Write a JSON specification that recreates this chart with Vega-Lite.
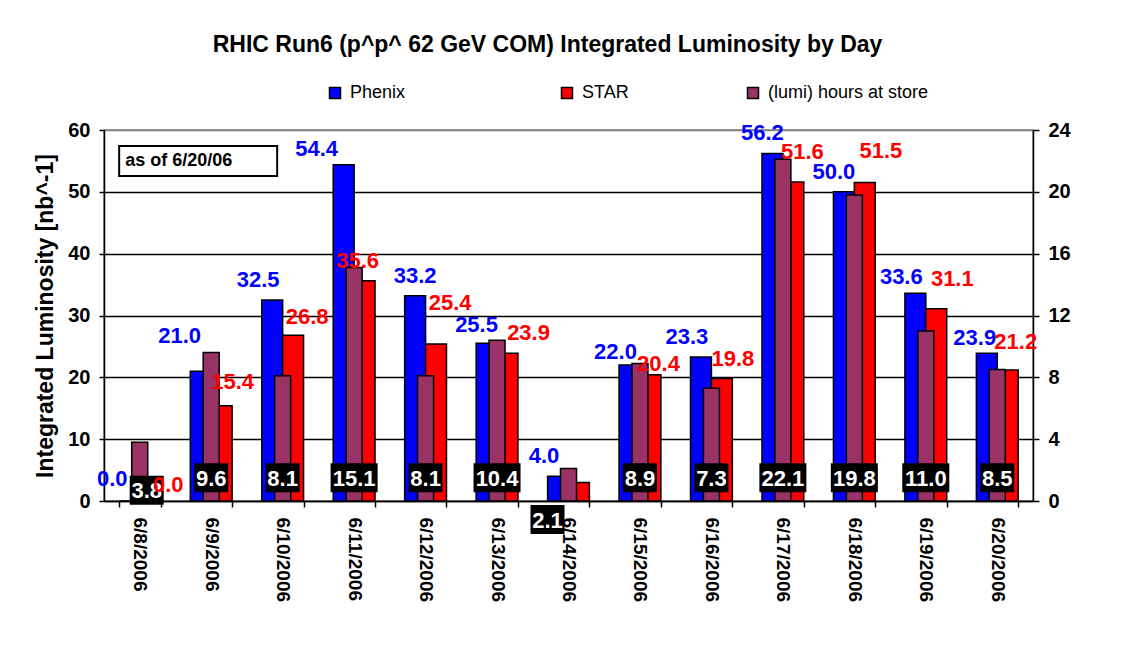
{
  "$schema": "https://vega.github.io/schema/vega-lite/v6.json",
  "width": 929,
  "height": 371,
  "autosize": {"type": "none"},
  "padding": {"left": 104, "top": 130, "right": 92, "bottom": 159},
  "background": "white",
  "title": {
    "text": "RHIC Run6 (p^p^ 62 GeV COM) Integrated Luminosity by Day",
    "font": "Liberation Sans",
    "fontSize": 23,
    "fontWeight": "bold",
    "color": "black",
    "anchor": "middle",
    "dx": -21,
    "offset": 27
  },
  "data": {
    "values": [
      {"date": "6/8/2006", "Phenix": 0.0, "STAR": 0.0, "hours": 3.8},
      {"date": "6/9/2006", "Phenix": 21.0, "STAR": 15.4, "hours": 9.6},
      {"date": "6/10/2006", "Phenix": 32.5, "STAR": 26.8, "hours": 8.1},
      {"date": "6/11/2006", "Phenix": 54.4, "STAR": 35.6, "hours": 15.1},
      {"date": "6/12/2006", "Phenix": 33.2, "STAR": 25.4, "hours": 8.1},
      {"date": "6/13/2006", "Phenix": 25.5, "STAR": 23.9, "hours": 10.4},
      {"date": "6/14/2006", "Phenix": 4.0, "STAR": 3.0, "hours": 2.1},
      {"date": "6/15/2006", "Phenix": 22.0, "STAR": 20.4, "hours": 8.9},
      {"date": "6/16/2006", "Phenix": 23.3, "STAR": 19.8, "hours": 7.3},
      {"date": "6/17/2006", "Phenix": 56.2, "STAR": 51.6, "hours": 22.1},
      {"date": "6/18/2006", "Phenix": 50.0, "STAR": 51.5, "hours": 19.8},
      {"date": "6/19/2006", "Phenix": 33.6, "STAR": 31.1, "hours": 11.0},
      {"date": "6/20/2006", "Phenix": 23.9, "STAR": 21.2, "hours": 8.5}
    ]
  },
  "config": {
    "font": "Liberation Sans",
    "view": {"stroke": "#808080", "strokeWidth": 1.5},
    "axis": {
      "labelFont": "Liberation Sans",
      "labelFontWeight": "bold",
      "labelFontSize": 20,
      "labelColor": "black",
      "domainColor": "black",
      "domainWidth": 1.5,
      "tickColor": "black",
      "tickWidth": 1.5,
      "titleColor": "black"
    },
    "legend": {
      "orient": "none",
      "direction": "horizontal",
      "title": null,
      "symbolType": "square",
      "symbolSize": 121,
      "symbolStrokeColor": "black",
      "symbolStrokeWidth": 1.5,
      "labelFont": "Liberation Sans",
      "labelFontSize": 18,
      "labelColor": "black",
      "labelOffset": 6,
      "labelLimit": 400
    }
  },
  "encoding": {
    "x": {
      "field": "date",
      "type": "nominal",
      "sort": null,
      "scale": {"paddingInner": 0.415, "paddingOuter": 0.2075},
      "axis": {
        "title": null,
        "labelAngle": 90,
        "labelAlign": "left",
        "labelBaseline": "middle",
        "labelFontSize": 19,
        "tickBand": "extent",
        "tickSize": 6,
        "labelPadding": 10
      }
    }
  },
  "layer": [
    {
      "layer": [
        {
          "transform": [{"fold": ["Phenix", "STAR"], "as": ["series", "lum"]}],
          "mark": {"type": "bar", "stroke": "black", "strokeWidth": 1.5},
          "encoding": {
            "y": {
              "field": "lum",
              "type": "quantitative",
              "scale": {"domain": [0, 60], "nice": false},
              "axis": {
                "title": "Integrated Luminosity [nb^-1]",
                "titleFont": "Liberation Sans",
                "titleFontSize": 23,
                "titleFontWeight": "bold",
                "titlePadding": 10,
                "values": [0, 10, 20, 30, 40, 50, 60],
                "grid": true,
                "gridColor": {"condition": {"test": "datum.value === 60", "value": "#808080"}, "value": "black"},
                "gridWidth": 1.3,
                "tickSize": 5,
                "labelPadding": 9
              }
            },
            "xOffset": {"field": "series", "sort": ["Phenix", "STAR"]},
            "color": {
              "field": "series",
              "type": "nominal",
              "scale": {"domain": ["Phenix", "STAR"], "range": ["#0000FF", "#FF0000"]},
              "legend": {"legendX": 222, "legendY": -46, "columnPadding": 152}
            }
          }
        },
        {
          "data": {"values": [{"note": "as of 6/20/06", "day": "6/9/2006", "level": 55}]},
          "mark": {"type": "point", "filled": true, "fill": "white", "stroke": "black", "strokeWidth": 2, "opacity": 1, "shape": "M-1.165,-0.19H0.835V0.19H-1.165Z", "size": 24964},
          "encoding": {
            "x": {"field": "day", "type": "nominal"},
            "y": {"field": "level", "type": "quantitative"}
          }
        },
        {
          "data": {"values": [{"note": "as of 6/20/06", "day": "6/9/2006", "level": 55}]},
          "mark": {"type": "text", "align": "left", "baseline": "middle", "dx": -86, "font": "Liberation Sans", "fontSize": 18, "fontWeight": "bold", "color": "black"},
          "encoding": {
            "x": {"field": "day", "type": "nominal"},
            "y": {"field": "level", "type": "quantitative"},
            "text": {"field": "note"}
          }
        }
      ]
    },
    {
      "layer": [
        {
          "mark": {"type": "bar", "width": {"band": 0.383}, "stroke": "black", "strokeWidth": 1.5},
          "encoding": {
            "y": {
              "field": "hours",
              "type": "quantitative",
              "scale": {"domain": [0, 24], "nice": false},
              "axis": {
                "orient": "right",
                "title": null,
                "values": [0, 4, 8, 12, 16, 20, 24],
                "grid": false,
                "tickSize": 6,
                "labelPadding": 9
              }
            },
            "fill": {
              "datum": "(lumi) hours at store",
              "scale": {"domain": ["(lumi) hours at store"], "range": ["#993366"]},
              "legend": {"legendX": 640, "legendY": -46}
            }
          }
        },
        {
          "transform": [{"filter": "datum.date !== '6/14/2006' && datum.date !== '6/8/2006'"}],
          "mark": {"type": "point", "filled": true, "fill": "black", "strokeWidth": 0, "opacity": 1},
          "encoding": {
            "y": {"datum": 1.5},
            "shape": {"condition": {"test": "datum.hours >= 10", "value": "M-1,-0.617H1V0.617H-1Z"}, "value": "M-1,-0.853H1V0.853H-1Z"},
            "size": {"condition": {"test": "datum.hours >= 10", "value": 2209}, "value": 1156}
          }
        },
        {
          "transform": [{"filter": "datum.date !== '6/14/2006' && datum.date !== '6/8/2006'"}],
          "mark": {"type": "text", "baseline": "middle", "align": "center", "dy": 1, "font": "Liberation Sans", "fontSize": 22, "fontWeight": "bold", "color": "white"},
          "encoding": {
            "y": {"datum": 1.5},
            "text": {"field": "hours", "type": "quantitative", "format": ".1f"}
          }
        },
        {
          "transform": [{"filter": "datum.date === '6/8/2006'"}],
          "mark": {"type": "point", "filled": true, "fill": "black", "strokeWidth": 0, "opacity": 1, "shape": "M-0.59,-0.853H1.41V0.853H-0.59Z", "size": 1156},
          "encoding": {
            "y": {"datum": 0.7}
          }
        },
        {
          "transform": [{"filter": "datum.date === '6/8/2006'"}],
          "mark": {"type": "text", "baseline": "middle", "align": "center", "dx": 7, "dy": 1, "font": "Liberation Sans", "fontSize": 22, "fontWeight": "bold", "color": "white"},
          "encoding": {
            "y": {"datum": 0.7},
            "text": {"field": "hours", "type": "quantitative", "format": ".1f"}
          }
        },
        {
          "transform": [{"filter": "datum.date === '6/14/2006'"}],
          "mark": {"type": "point", "filled": true, "fill": "black", "strokeWidth": 0, "opacity": 1, "shape": "M-2.235,-0.853H-0.235V0.853H-2.235Z", "size": 1156},
          "encoding": {
            "y": {"datum": -1.2}
          }
        },
        {
          "transform": [{"filter": "datum.date === '6/14/2006'"}],
          "mark": {"type": "text", "baseline": "middle", "align": "center", "dx": -21, "dy": 1, "font": "Liberation Sans", "fontSize": 22, "fontWeight": "bold", "color": "white"},
          "encoding": {
            "y": {"datum": -1.2},
            "text": {"field": "hours", "type": "quantitative", "format": ".1f"}
          }
        }
      ]
    },
    {
      "layer": [
        {
          "mark": {
            "type": "text",
            "baseline": "middle",
            "align": "center",
            "dx": {"expr": "{'6/8/2006': -27.5, '6/9/2006': -31.5, '6/11/2006': -37.5, '6/12/2006': -10.5, '6/13/2006': -20.5, '6/17/2006': -20.5, '6/18/2006': -20.5, '6/20/2006': -22.5}[datum.date] || -24.5"},
            "dy": {"expr": "{'6/8/2006': -22, '6/9/2006': -35, '6/11/2006': -16, '6/13/2006': -18, '6/15/2006': -13, '6/19/2006': -16, '6/20/2006': -15}[datum.date] || -20"},
            "font": "Liberation Sans",
            "fontSize": 22,
            "fontWeight": "bold",
            "color": "#0000FF"
          },
          "encoding": {
            "y": {"field": "Phenix", "type": "quantitative", "scale": {"domain": [0, 60], "nice": false}, "axis": null},
            "text": {"field": "Phenix", "type": "quantitative", "format": ".1f"}
          }
        },
        {
          "transform": [{"filter": "datum.date !== '6/14/2006'"}],
          "mark": {
            "type": "text",
            "baseline": "middle",
            "align": "center",
            "dx": {"expr": "{'6/8/2006': 28.5, '6/9/2006': 21.5, '6/10/2006': 24.5, '6/11/2006': 3.5, '6/12/2006': 24.5, '6/13/2006': 31.5, '6/15/2006': 18.5, '6/16/2006': 21.5, '6/17/2006': 19.5, '6/18/2006': 26.5, '6/19/2006': 26.5, '6/20/2006': 18.5}[datum.date] || 22.5"},
            "dy": {"expr": "{'6/8/2006': -16, '6/9/2006': -24, '6/10/2006': -18, '6/12/2006': -41, '6/15/2006': -11, '6/17/2006': -30, '6/18/2006': -32, '6/19/2006': -30, '6/20/2006': -28}[datum.date] || -20"},
            "font": "Liberation Sans",
            "fontSize": 22,
            "fontWeight": "bold",
            "color": "#FF0000"
          },
          "encoding": {
            "y": {"field": "STAR", "type": "quantitative", "scale": {"domain": [0, 60], "nice": false}, "axis": null},
            "text": {"field": "STAR", "type": "quantitative", "format": ".1f"}
          }
        }
      ]
    }
  ],
  "resolve": {"scale": {"y": "independent"}}
}
